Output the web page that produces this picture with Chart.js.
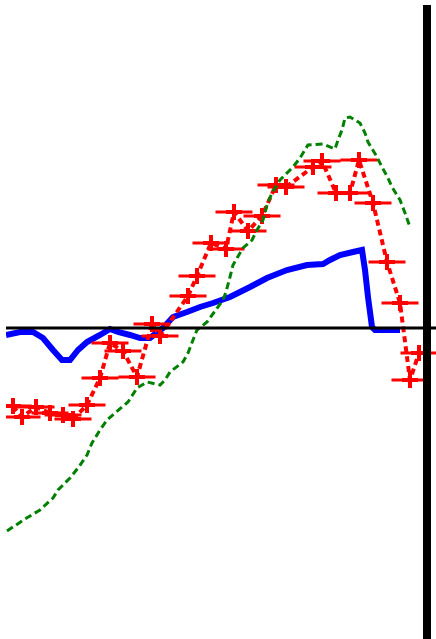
<!DOCTYPE html>
<html>
<head>
<meta charset="utf-8">
<script src="https://cdn.jsdelivr.net/npm/chart.js@4"></script>
<style>
  html, body { margin: 0; padding: 0; background: #ffffff; }
  canvas { display: block; }
</style>
</head>
<body>
<canvas id="chart" width="436" height="639"></canvas>
<script>
// Smoothed record (thick blue curve)
const blueX = [0, 1.4, 2.7, 3.7, 4.7, 5.6, 6.4, 7.2, 8.1, 9.4, 10.4, 11.2, 12.4, 13.4, 14.4, 15.7, 16.7, 18.1, 19.4, 20.7, 22.4, 24.4, 26.1, 28.1, 30.1, 31.7, 32.4, 33.4, 34.7, 35.6, 35.9, 36.2, 36.6, 36.9, 39.4];
const blueY = [-0.14, -0.08, -0.08, -0.20, -0.44, -0.64, -0.64, -0.44, -0.28, -0.14, -0.02, -0.08, -0.14, -0.20, -0.20, 0.00, 0.22, 0.32, 0.42, 0.50, 0.62, 0.82, 1.00, 1.16, 1.26, 1.28, 1.36, 1.46, 1.52, 1.56, 1.16, 0.62, 0.02, -0.04, -0.04];

// Measurements with horizontal uncertainty (red crosses)
const redX = [0.7, 1.6, 3.0, 4.4, 5.7, 6.7, 8.1, 9.4, 10.4, 11.7, 13.1, 14.6, 15.4, 18.2, 19.1, 20.5, 22.0, 22.8, 24.2, 25.6, 27.0, 28.0, 30.7, 31.6, 33.0, 34.4, 35.3, 36.7, 38.1, 39.4, 40.4, 41.3];
const redY = [-1.56, -1.78, -1.58, -1.70, -1.74, -1.82, -1.54, -1.00, -0.30, -0.46, -0.98, 0.08, -0.16, 0.64, 1.04, 1.70, 1.58, 2.32, 1.94, 2.24, 2.86, 2.82, 3.22, 3.34, 2.70, 2.70, 3.36, 2.50, 1.32, 0.50, -1.04, -0.50];
const redXErr = [1.85, 1.85, 1.85, 1.85, 1.85, 1.85, 1.85, 1.85, 1.85, 1.85, 1.85, 1.85, 1.85, 1.85, 1.85, 1.85, 1.85, 1.85, 1.85, 1.85, 1.85, 1.85, 1.85, 1.85, 1.85, 1.85, 1.85, 1.85, 1.85, 1.85, 1.85, 1.85];

// Model curve (green dashed)
const greenX = [0.1, 1.9, 3.4, 4.7, 5.2, 6.4, 7.2, 8.1, 8.6, 9.4, 10.1, 10.9, 12.2, 13.1, 14.1, 15.4, 15.9, 16.4, 17.7, 18.2, 18.7, 19.1, 20.1, 20.9, 21.7, 22.0, 22.4, 22.7, 23.7, 24.6, 25.1, 25.7, 26.1, 26.6, 27.4, 28.7, 29.4, 30.2, 31.7, 32.9, 33.2, 33.6, 33.9, 34.4, 35.4, 35.9, 36.2, 37.1, 37.6, 38.2, 38.6, 39.4, 39.9, 40.4];
const greenY = [-4.06, -3.82, -3.64, -3.40, -3.24, -3.00, -2.80, -2.54, -2.30, -2.04, -1.84, -1.70, -1.48, -1.20, -1.08, -1.14, -1.04, -0.88, -0.68, -0.50, -0.24, -0.04, 0.12, 0.34, 0.56, 0.72, 1.02, 1.26, 1.60, 1.76, 1.96, 2.16, 2.46, 2.70, 2.96, 3.22, 3.40, 3.66, 3.68, 3.58, 3.76, 3.96, 4.20, 4.22, 4.10, 3.90, 3.72, 3.42, 3.22, 3.00, 2.82, 2.56, 2.30, 2.02];

// Reference lines: zero level and a vertical marker
const zeroLevel = 0;
const markerX = 42.1;
const markerTop = 6.46;

// Axis ranges
const xRange = [0, 43];
const yRange = [-6.22, 6.56];

const pts = (xs, ys) => xs.map((x, i) => ({ x: x, y: ys[i] }));

// Horizontal error bars as broken line segments
const errSegments = [];
redX.forEach((x, i) => {
  errSegments.push({ x: x - redXErr[i], y: redY[i] });
  errSegments.push({ x: x + redXErr[i], y: redY[i] });
  errSegments.push({ x: x + redXErr[i], y: null });
});

new Chart(document.getElementById('chart'), {
  type: 'scatter',
  data: {
    datasets: [
      {
        label: 'zero',
        type: 'line',
        data: [{ x: xRange[0], y: zeroLevel }, { x: xRange[1], y: zeroLevel }],
        borderColor: '#000000',
        borderWidth: 3,
        pointRadius: 0,
        order: 0
      },
      {
        label: 'marker',
        type: 'line',
        data: [{ x: markerX, y: markerTop }, { x: markerX, y: yRange[0] }],
        borderColor: '#000000',
        borderWidth: 8,
        pointRadius: 0,
        order: 0
      },
      {
        label: 'model',
        type: 'line',
        data: pts(greenX, greenY),
        borderColor: '#008000',
        borderWidth: 3,
        borderDash: [7, 4],
        pointRadius: 0,
        tension: 0,
        order: 1
      },
      {
        label: 'measurements',
        type: 'line',
        data: pts(redX, redY),
        borderColor: '#ff0000',
        borderWidth: 4,
        borderDash: [6, 4],
        showLine: true,
        tension: 0,
        pointStyle: 'cross',
        pointRadius: 8,
        pointBorderWidth: 4,
        pointBorderColor: '#ff0000',
        pointBackgroundColor: '#ff0000',
        order: 2
      },
      {
        label: 'xerr',
        type: 'line',
        data: errSegments,
        borderColor: '#ff0000',
        borderWidth: 3,
        pointRadius: 0,
        spanGaps: false,
        order: 3
      },
      {
        label: 'record',
        type: 'line',
        data: pts(blueX, blueY),
        borderColor: '#0000ff',
        borderWidth: 6,
        pointRadius: 0,
        tension: 0,
        order: 4
      }
    ]
  },
  options: {
    responsive: false,
    animation: false,
    events: [],
    layout: { autoPadding: false, padding: { left: 6, right: 0, top: 0, bottom: 0 } },
    plugins: { legend: { display: false }, tooltip: { enabled: false }, title: { display: false } },
    scales: {
      x: { type: 'linear', display: false, min: xRange[0], max: xRange[1] },
      y: { type: 'linear', display: false, min: yRange[0], max: yRange[1] }
    }
  }
});
</script>
</body>
</html>
